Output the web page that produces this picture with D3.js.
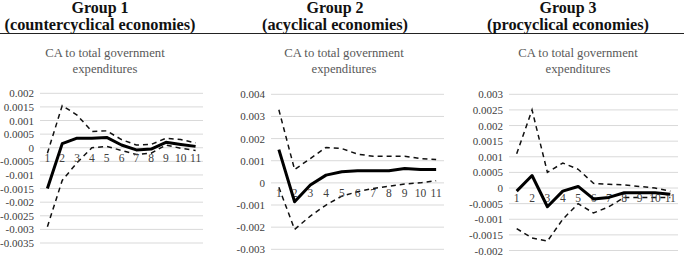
<!DOCTYPE html>
<html>
<head>
<meta charset="utf-8">
<script src="https://cdn.jsdelivr.net/npm/d3@7"></script>
<style>
  body { margin: 0; background: #fff; }
  svg text { font-family: 'Liberation Serif', 'Times New Roman', serif; }
</style>
</head>
<body>
<div id="chart"></div>
<script>
// periods on the x axis
var periods = ["1", "2", "3", "4", "5", "6", "7", "8", "9", "10", "11"];

var groupTitles = ["Group 1", "Group 2", "Group 3"];
var groupSubtitles = ["(countercyclical economies)", "(acyclical economies)", "(procyclical economies)"];
var panelTitle = ["CA to total government", "expenditures"];

// group 1 (countercyclical)
var g1Mid   = [-0.0015, 0.00015, 0.00035, 0.00035, 0.00038, 0.0001, -0.00008, -0.00005, 0.0002, 0.00012, 0.00005];
var g1Upper = [-0.0002, 0.00155, 0.0012, 0.0006, 0.00062, 0.0003, 0.0001, 0.00012, 0.00035, 0.0003, 0.00018];
var g1Lower = [-0.0029, -0.0012, -0.00055, 0.0, 0.00005, -0.0001, -0.00025, -0.0002, 0.0001, -0.00002, -0.0001];

// group 2 (acyclical)
var g2Mid   = [0.0015, -0.00085, -0.0001, 0.00035, 0.0005, 0.00055, 0.00055, 0.00055, 0.00065, 0.0006, 0.0006];
var g2Upper = [0.0033, 0.0006, 0.0011, 0.0016, 0.00155, 0.0013, 0.0012, 0.0012, 0.0012, 0.0011, 0.00105];
var g2Lower = [-0.0002, -0.0021, -0.0015, -0.001, -0.0006, -0.0004, -0.00025, -0.00015, -0.00005, 0.0, 0.0001];

// group 3 (procyclical)
var g3Mid   = [-0.0001, 0.0004, -0.0006, -0.0001, 0.00005, -0.00035, -0.0003, -0.00015, -0.00015, -0.00015, -0.0002];
var g3Upper = [0.0011, 0.0025, 0.0005, 0.0008, 0.0006, 0.00015, 0.00012, 0.0001, 0.00005, 0.0, -0.0001];
var g3Lower = [-0.0013, -0.0016, -0.0017, -0.001, -0.0005, -0.0008, -0.0006, -0.0003, -0.0003, -0.0003, -0.0003];

// y axis tick values per panel
var g1Ticks = [0.002, 0.0015, 0.001, 0.0005, 0, -0.0005, -0.001, -0.0015, -0.002, -0.0025, -0.003, -0.0035];
var g2Ticks = [0.004, 0.003, 0.002, 0.001, 0, -0.001, -0.002, -0.003];
var g3Ticks = [0.003, 0.0025, 0.002, 0.0015, 0.001, 0.0005, 0, -0.0005, -0.001, -0.0015, -0.002];

var panels = [
    { mid: g1Mid, upper: g1Upper, lower: g1Lower, ticks: g1Ticks, left: 40, right: 203, top: 93.3, bottom: 243, center: 100, titleX: 105 },
    { mid: g2Mid, upper: g2Upper, lower: g2Lower, ticks: g2Ticks, left: 271, right: 444, top: 94.3, bottom: 249.3, center: 335, titleX: 344 },
    { mid: g3Mid, upper: g3Upper, lower: g3Lower, ticks: g3Ticks, left: 509, right: 678, top: 94.3, bottom: 250.5, center: 568, titleX: 578 }
];

var width = 684, height = 257;
var SERIF = "'Liberation Serif', 'Times New Roman', serif";

var svg = d3.select("#chart").append("svg")
    .attr("width", width)
    .attr("height", height);

// rule under the group headers
svg.append("line")
    .attr("x1", 0).attr("x2", width)
    .attr("y1", 33.5).attr("y2", 33.5)
    .attr("stroke", "#222")
    .attr("stroke-width", 1);

var fmt = function (d) { return String(+d.toFixed(4)); };

panels.forEach(function (p, i) {
    // headers
    svg.append("text")
        .attr("x", p.center).attr("y", 13)
        .attr("text-anchor", "middle")
        .style("font-family", SERIF)
        .style("font-size", "16px").style("font-weight", "bold")
        .attr("fill", "#111")
        .text(groupTitles[i]);
    svg.append("text")
        .attr("x", p.center).attr("y", 30)
        .attr("text-anchor", "middle")
        .style("font-family", SERIF)
        .style("font-size", "16.3px").style("font-weight", "bold")
        .attr("fill", "#111")
        .text(groupSubtitles[i]);

    panelTitle.forEach(function (t, k) {
        svg.append("text")
            .attr("x", p.titleX).attr("y", 57 + k * 16)
            .attr("text-anchor", "middle")
            .style("font-family", SERIF)
            .style("font-size", "12.7px")
            .attr("fill", "#595959")
            .text(t);
    });

    var x = d3.scaleBand().domain(periods).range([p.left, p.right]);
    var y = d3.scaleLinear()
        .domain([d3.min(p.ticks), d3.max(p.ticks)])
        .range([p.bottom, p.top]);

    var g = svg.append("g");

    // gridlines
    g.selectAll("line.grid")
        .data(p.ticks)
        .enter().append("line")
        .attr("class", "grid")
        .attr("x1", p.left).attr("x2", p.right)
        .attr("y1", function (d) { return y(d); })
        .attr("y2", function (d) { return y(d); })
        .attr("stroke", "#d9d9d9")
        .attr("stroke-width", 1);

    // y axis labels
    var yAxis = d3.axisLeft(y).tickValues(p.ticks).tickFormat(fmt).tickSize(0).tickPadding(6);
    var ya = svg.append("g")
        .attr("transform", "translate(" + p.left + ",0)")
        .call(yAxis)
        .attr("font-family", null);
    ya.select(".domain").remove();
    ya.selectAll("text")
        .style("font-family", SERIF)
        .style("font-size", "11px")
        .attr("fill", "#404040");

    // category labels along zero line
    var xAxis = d3.axisBottom(x).tickSize(0).tickPadding(6);
    var xa = svg.append("g")
        .attr("transform", "translate(0," + y(0) + ")")
        .call(xAxis)
        .attr("font-family", null);
    xa.select(".domain").remove();
    xa.selectAll("text")
        .style("font-family", SERIF)
        .style("font-size", "11.5px")
        .attr("fill", "#404040");

    var line = d3.line()
        .x(function (d, j) { return x(periods[j]) + x.bandwidth() / 2; })
        .y(function (d) { return y(d); });

    g.append("path")
        .datum(p.upper)
        .attr("d", line)
        .attr("fill", "none")
        .attr("stroke", "#111")
        .attr("stroke-width", 1.5)
        .attr("stroke-dasharray", "5,4");
    g.append("path")
        .datum(p.lower)
        .attr("d", line)
        .attr("fill", "none")
        .attr("stroke", "#111")
        .attr("stroke-width", 1.5)
        .attr("stroke-dasharray", "5,4");
    svg.append("path")
        .datum(p.mid)
        .attr("d", line)
        .attr("fill", "none")
        .attr("stroke", "#000")
        .attr("stroke-width", 3)
        .attr("stroke-linejoin", "round");
});
</script>
</body>
</html>
